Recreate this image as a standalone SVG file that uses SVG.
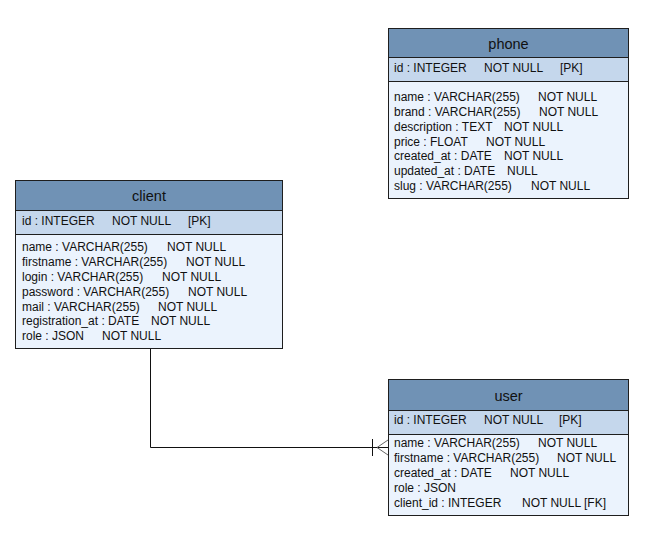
<svg xmlns="http://www.w3.org/2000/svg" width="659" height="538" viewBox="0 0 659 538">
<style>
.hd{fill:#7092b5;stroke:#1e1e1e;stroke-width:1}
.pk{fill:#c5d7ec;stroke:#1e1e1e;stroke-width:1}
.bd{fill:#ebf3fd;stroke:#1e1e1e;stroke-width:1}
.ttl{font-family:"Liberation Sans",Arial,sans-serif;font-size:14.5px;fill:#111;text-anchor:middle}
.t{font-family:"Liberation Sans",Arial,sans-serif;font-size:12px;fill:#111}
.ln{fill:none;stroke:#111;stroke-width:1}
.cf{fill:none;stroke:#666;stroke-width:1}
</style>
<rect width="659" height="538" fill="#ffffff"/>
<g id="connectors">
<polyline class="ln" points="150.5,348 150.5,447.5 388,447.5"/>
<line class="ln" x1="372.5" y1="439" x2="372.5" y2="456"/>
<polyline class="cf" points="388,440 377,447.5 388,455"/>
</g>
<g id="phone">
<rect class="bd" x="388.5" y="28.5" width="240" height="170"/>
<rect class="hd" x="388.5" y="28.5" width="240" height="29"/>
<rect class="pk" x="388.5" y="57.5" width="240" height="24"/>
<text class="ttl" x="508.5" y="49">phone</text>
<text class="t" y="72"><tspan x="394">id : INTEGER</tspan><tspan x="484">NOT NULL</tspan><tspan x="560">[PK]</tspan></text>
<text class="t" y="101"><tspan x="394">name : VARCHAR(255)</tspan><tspan x="538">NOT NULL</tspan></text>
<text class="t" y="116"><tspan x="394">brand : VARCHAR(255)</tspan><tspan x="539">NOT NULL</tspan></text>
<text class="t" y="131"><tspan x="394">description : TEXT</tspan><tspan x="504">NOT NULL</tspan></text>
<text class="t" y="146"><tspan x="394">price : FLOAT</tspan><tspan x="486">NOT NULL</tspan></text>
<text class="t" y="160"><tspan x="394">created_at : DATE</tspan><tspan x="504">NOT NULL</tspan></text>
<text class="t" y="175"><tspan x="394">updated_at : DATE</tspan><tspan x="507">NULL</tspan></text>
<text class="t" y="190"><tspan x="394">slug : VARCHAR(255)</tspan><tspan x="531">NOT NULL</tspan></text>
</g>
<g id="client">
<rect class="bd" x="15.5" y="180.5" width="267" height="168"/>
<rect class="hd" x="15.5" y="180.5" width="267" height="30"/>
<rect class="pk" x="15.5" y="210.5" width="267" height="24"/>
<text class="ttl" x="149" y="201">client</text>
<text class="t" y="225"><tspan x="22">id : INTEGER</tspan><tspan x="112">NOT NULL</tspan><tspan x="188">[PK]</tspan></text>
<text class="t" y="251"><tspan x="22">name : VARCHAR(255)</tspan><tspan x="167">NOT NULL</tspan></text>
<text class="t" y="266"><tspan x="22">firstname : VARCHAR(255)</tspan><tspan x="186">NOT NULL</tspan></text>
<text class="t" y="281"><tspan x="22">login : VARCHAR(255)</tspan><tspan x="162">NOT NULL</tspan></text>
<text class="t" y="296"><tspan x="22">password : VARCHAR(255)</tspan><tspan x="188">NOT NULL</tspan></text>
<text class="t" y="311"><tspan x="22">mail : VARCHAR(255)</tspan><tspan x="158">NOT NULL</tspan></text>
<text class="t" y="325"><tspan x="22">registration_at : DATE</tspan><tspan x="151">NOT NULL</tspan></text>
<text class="t" y="340"><tspan x="22">role : JSON</tspan><tspan x="102">NOT NULL</tspan></text>
</g>
<g id="user">
<rect class="bd" x="388.5" y="379.5" width="240" height="136"/>
<rect class="hd" x="388.5" y="379.5" width="240" height="31"/>
<rect class="pk" x="388.5" y="410.5" width="240" height="24"/>
<text class="ttl" x="508.5" y="401">user</text>
<text class="t" y="424"><tspan x="394">id : INTEGER</tspan><tspan x="484">NOT NULL</tspan><tspan x="559">[PK]</tspan></text>
<text class="t" y="447"><tspan x="394">name : VARCHAR(255)</tspan><tspan x="538">NOT NULL</tspan></text>
<text class="t" y="462"><tspan x="394">firstname : VARCHAR(255)</tspan><tspan x="557">NOT NULL</tspan></text>
<text class="t" y="477"><tspan x="394">created_at : DATE</tspan><tspan x="510">NOT NULL</tspan></text>
<text class="t" y="492"><tspan x="394">role : JSON</tspan></text>
<text class="t" y="507"><tspan x="394">client_id : INTEGER</tspan><tspan x="522">NOT NULL [FK]</tspan></text>
</g>
</svg>
